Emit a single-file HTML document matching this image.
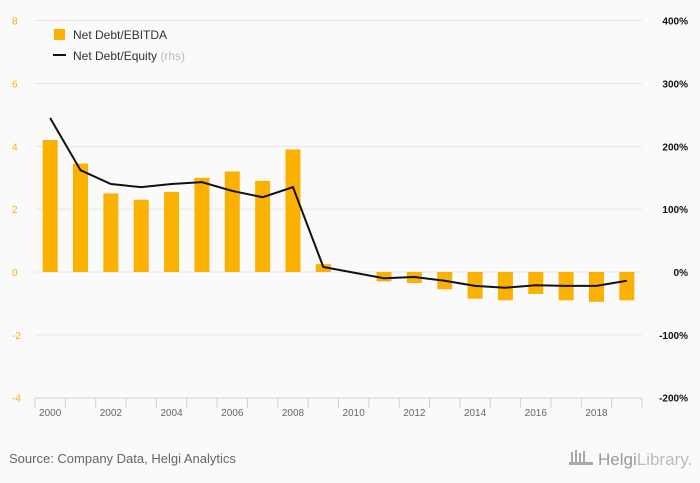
<!DOCTYPE html>
<html><head><meta charset="utf-8"><style>
body{margin:0;background:#fafafa;}
svg{display:block;font-family:"Liberation Sans",sans-serif;}
</style></head><body>
<svg id="c" width="700" height="483">
<rect width="700" height="483" fill="#fafafa"/>
<g id="grid"></g><g id="bars"></g><g id="line"></g><g id="axes"></g>
<g>
<rect x="54" y="29" width="11" height="11" fill="#fbb100"/>
<text x="73" y="39" font-size="12" fill="#333">Net Debt/EBITDA</text>
<line x1="53" y1="55" x2="66" y2="55" stroke="#111" stroke-width="2"/>
<text x="73" y="60" font-size="12" fill="#333">Net Debt/Equity <tspan fill="#bbb">(rhs)</tspan></text>
</g>
<text x="9" y="463" font-size="13" fill="#666">Source: Company Data, Helgi Analytics</text>
<text x="598" y="465" font-size="17" fill="#999">Helgi<tspan fill="#bbb">Library.</tspan></text>
<g fill="#aaa"><rect x="571" y="452" width="2" height="12"/><rect x="575" y="450" width="2" height="14"/><rect x="579" y="453" width="2" height="11"/><rect x="583" y="451" width="2" height="13"/><rect x="569" y="462" width="24" height="3"/></g>
</svg>
<script>
const years=[2000,2001,2002,2003,2004,2005,2006,2007,2008,2009,2010,2011,2012,2013,2014,2015,2016,2017,2018,2019];
const ebitda=[4.2,3.45,2.5,2.3,2.55,3.0,3.2,2.9,3.9,0.25,0.0,-0.3,-0.35,-0.55,-0.85,-0.9,-0.7,-0.9,-0.95,-0.9];
const equity=[245,162,140,135,140,143,129,119,135,8,-1,-10,-8,-14,-22,-25,-21,-22,-22,-14];
const leftTicks=[8,6,4,2,0,-2,-4];
const rightTicks=["400%","300%","200%","100%","0%","-100%","-200%"];
const x0=35,band=30.35,yTop=21,yBot=398;
const yL=v=>272-(v*(yBot-yTop)/12);
const yR=v=>272-(v/100)*(2*(yBot-yTop)/12);
const xC=i=>x0+band*(i+0.5);
const NS="http://www.w3.org/2000/svg";
function mk(p,t,a){const e=document.createElementNS(NS,t);for(const k in a)e.setAttribute(k,a[k]);document.getElementById(p).appendChild(e);return e;}
leftTicks.forEach((v,i)=>{
 const y=yL(v);
 if(v!==-4){const g=mk('grid','line',{x1:x0,x2:642,y1:y,y2:y,stroke:'#e6e6e6'});
 
 }
 const t=mk('axes','text',{x:12,y:y+4,'font-size':10,fill:'#fbb100','text-anchor':'start'});t.textContent=v;
 
 
 const r=mk('axes','text',{x:688,y:y+4,'font-size':10,fill:'#111','text-anchor':'end','font-weight':'bold'});r.textContent=rightTicks[i];
 
 
});
const ax=mk('axes','line',{x1:x0,x2:642,y1:yBot,y2:yBot,stroke:'#c8d4e6'});


for(let i=0;i<=years.length;i++){const t=mk('axes','line',{x1:x0+band*i,x2:x0+band*i,y1:yBot,y2:yBot+10,stroke:'#c8d4e6'});
 
 }
years.forEach((yr,i)=>{
 if(i%2===0){const t=mk('axes','text',{x:xC(i),y:416,'font-size':10,fill:'#666','text-anchor':'middle'});t.textContent=yr;
 
 }
 const v=ebitda[i],y1=yL(Math.max(v,0)),y2=yL(Math.min(v,0));
 const b=mk('bars','rect',{x:xC(i)-7.5,y:y1,width:15,height:Math.max(y2-y1,0),fill:'#fbb100'});
 
 
});
const pl=mk('line','polyline',{points:equity.map((v,i)=>xC(i)+','+yR(v)).join(' '),fill:'none',stroke:'#111','stroke-width':2});


</script>
</body></html>
